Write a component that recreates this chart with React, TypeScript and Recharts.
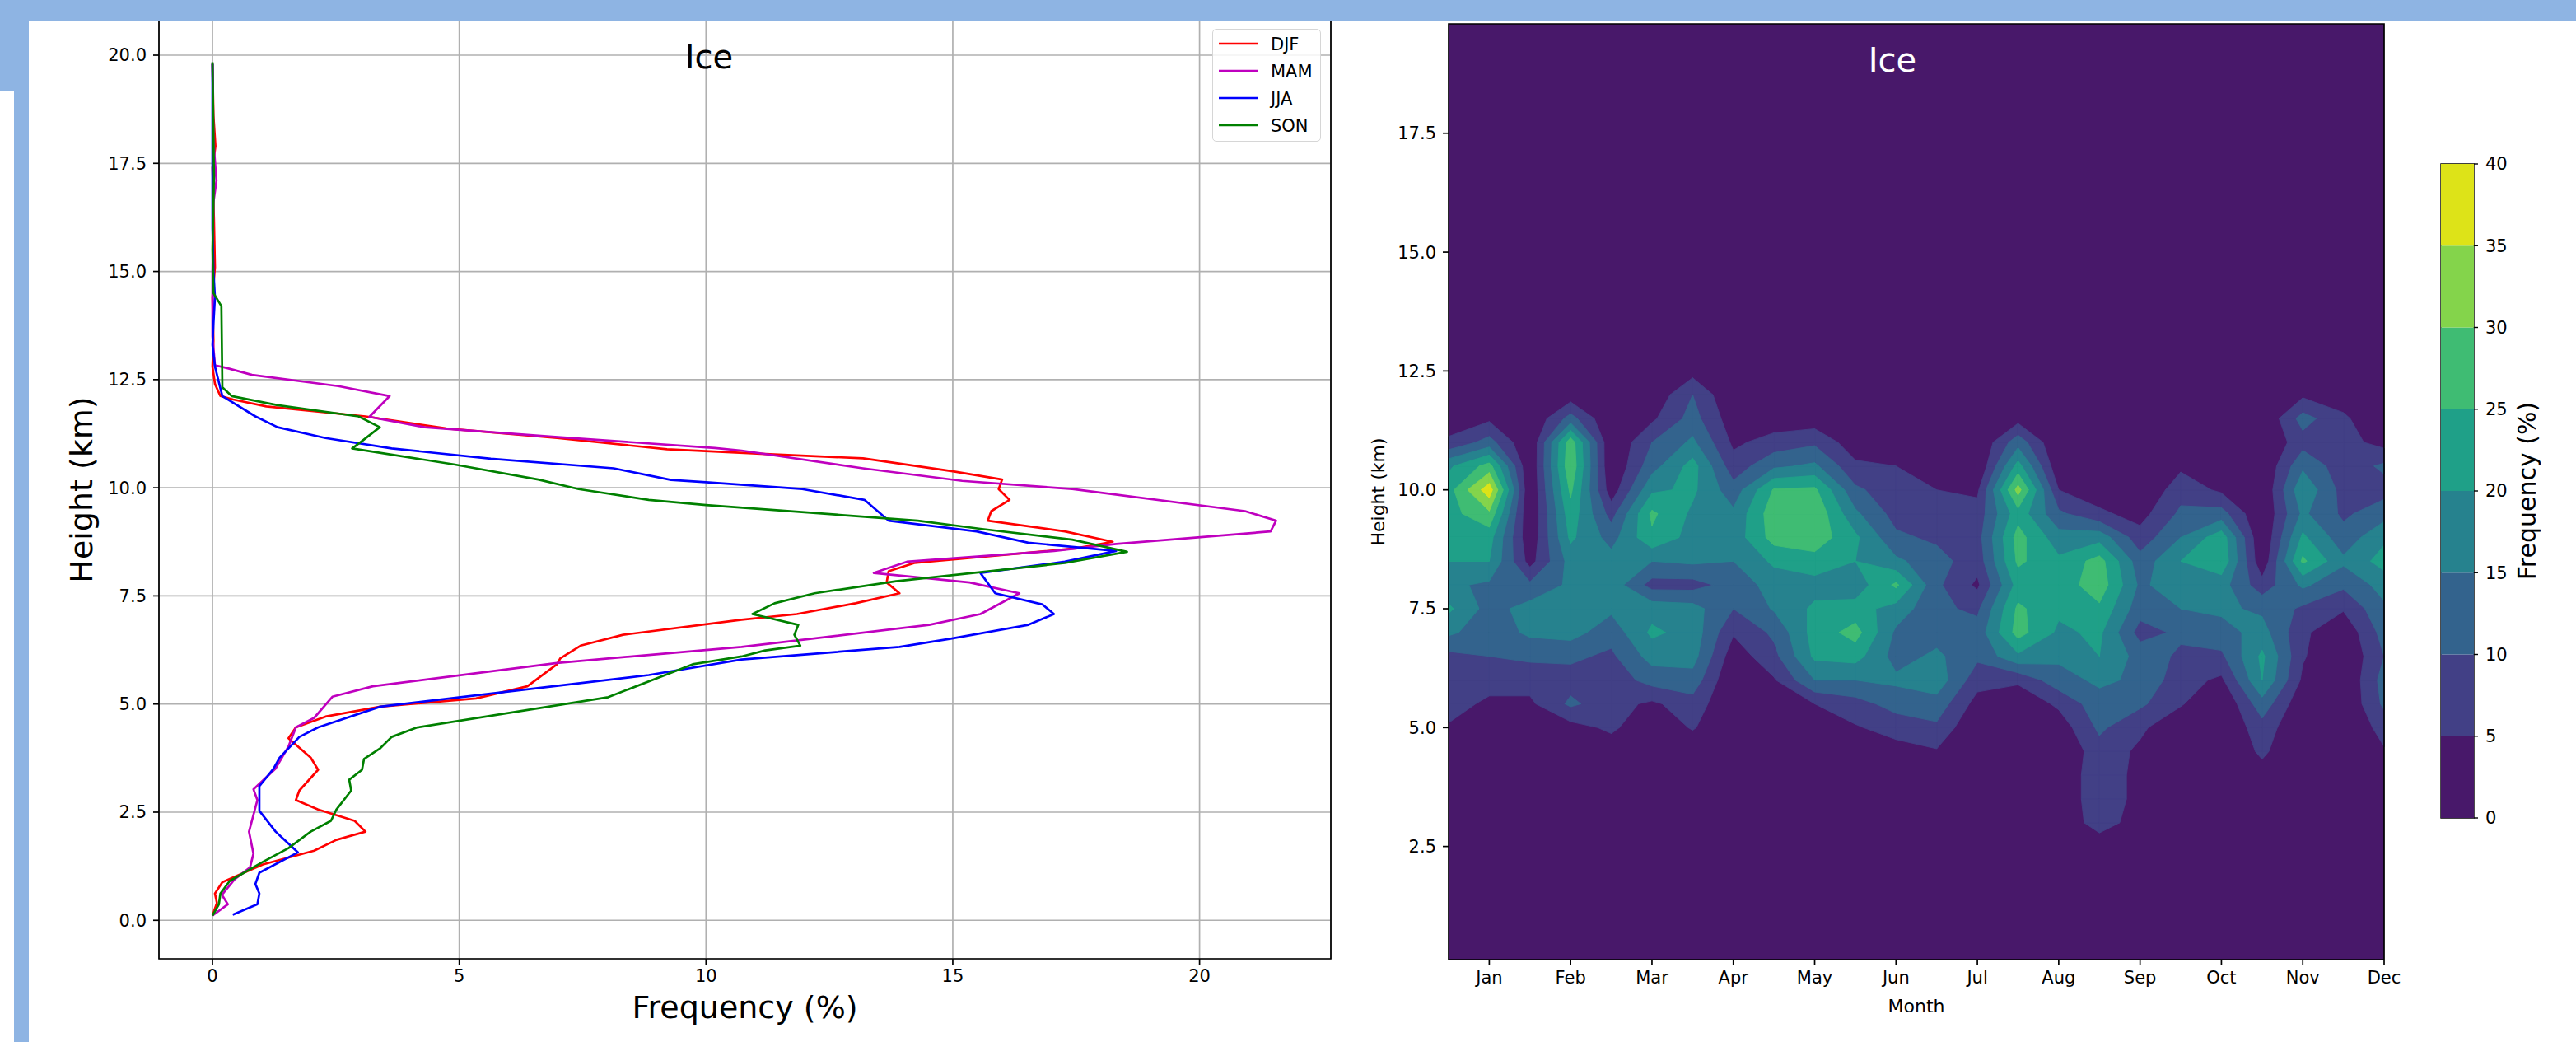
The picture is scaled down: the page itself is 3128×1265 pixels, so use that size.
import React from 'react';
import {
  ScatterChart,
  Scatter,
  XAxis,
  YAxis,
  CartesianGrid,
  ComposedChart,
  ReferenceArea,
  BarChart,
  Bar,
} from 'recharts';

const FONT = 'DejaVu Sans, Verdana, sans-serif';
const DECOR_BLUE = '#8eb4e3';

// ---------- left panel: seasonal profiles (frequency %, height km) ----------
const SEASONS = ['DJF', 'MAM', 'JJA', 'SON'];
const SEASON_COLORS = ['#ff0000', '#bf00bf', '#0000ff', '#008000'];

const DJF: [number, number][] = [
  [0, 19.8], [0.02, 18.6], [0.06, 17.9], [0, 17.4], [0.03, 16.2], [0.05, 15.1], [0, 14.4], [0.02, 13.4],
  [0, 12.8], [0.05, 12.4], [0.16, 12.12], [0.42, 12.04], [1.09, 11.88], [3.1, 11.65], [4.74, 11.37],
  [6.98, 11.15], [9.21, 10.89], [11.2, 10.78], [13.18, 10.68], [15.0, 10.38], [16.0, 10.19], [15.93, 9.97],
  [16.15, 9.72], [15.78, 9.46], [15.71, 9.24], [17.27, 8.99], [18.24, 8.75], [17.5, 8.6], [14.22, 8.26],
  [13.7, 8.07], [13.66, 7.81], [13.92, 7.56], [13.03, 7.33], [11.84, 7.08], [10.72, 6.95], [8.32, 6.6],
  [7.46, 6.35], [7.05, 6.06], [6.98, 5.92], [6.38, 5.41], [5.34, 5.13], [3.4, 4.94], [2.29, 4.71],
  [1.69, 4.46], [1.54, 4.21], [1.99, 3.76], [2.14, 3.48], [1.76, 3.0], [1.69, 2.78], [2.14, 2.56],
  [2.88, 2.3], [3.1, 2.05], [2.51, 1.86], [2.06, 1.61], [1.02, 1.29], [0.2, 0.88], [0.05, 0.62],
  [0.09, 0.4], [0, 0.11],
];
const MAM: [number, number][] = [
  [0, 19.8], [0.02, 18.0], [0.08, 17.1], [0.02, 16.6], [0, 15.0], [0, 13.5], [0.05, 12.83], [0.28, 12.77],
  [0.8, 12.61], [2.55, 12.35], [3.59, 12.12], [3.18, 11.64], [4.3, 11.4], [7.0, 11.17], [10.18, 10.92],
  [10.72, 10.86], [13.18, 10.45], [15.19, 10.16], [17.42, 9.97], [20.92, 9.46], [21.55, 9.24],
  [21.44, 8.99], [18.31, 8.7], [17.05, 8.54], [14.07, 8.29], [13.4, 8.03], [15.34, 7.81], [16.35, 7.56],
  [15.56, 7.08], [14.52, 6.83], [10.72, 6.32], [6.98, 5.95], [3.25, 5.41], [2.43, 5.17], [2.06, 4.68],
  [1.69, 4.46], [1.54, 4.02], [1.28, 3.51], [0.83, 3.03], [0.91, 2.78], [0.74, 2.05], [0.83, 1.54],
  [0.76, 1.22], [0.45, 0.95], [0.19, 0.59], [0.31, 0.37], [0, 0.11],
];
const JJA: [number, number][] = [
  [0, 19.8], [0, 16.0], [0.02, 15.0], [0.05, 14.4], [0.02, 13.8], [0, 13.3], [0.05, 12.8], [0.2, 12.12],
  [0.87, 11.65], [1.32, 11.4], [2.29, 11.15], [3.63, 10.91], [5.64, 10.67], [8.13, 10.45], [9.29, 10.18],
  [10.0, 10.13], [11.95, 9.97], [13.21, 9.72], [13.7, 9.24], [15.48, 8.99], [16.53, 8.73], [18.31, 8.54],
  [17.27, 8.29], [15.56, 8.03], [15.86, 7.56], [16.82, 7.3], [17.05, 7.08], [16.53, 6.83], [14.96, 6.51],
  [13.92, 6.32], [10.72, 6.03], [8.84, 5.67], [6.23, 5.32], [3.4, 4.94], [2.14, 4.46], [1.76, 4.24],
  [1.36, 3.76], [1.24, 3.51], [0.95, 3.1], [0.95, 2.53], [1.28, 2.05], [1.73, 1.57], [0.95, 1.1],
  [0.87, 0.84], [0.95, 0.62], [0.91, 0.37], [0.41, 0.13],
];
const SON: [number, number][] = [
  [0, 19.84], [0.03, 17.2], [0, 15.5], [0.02, 14.5], [0.18, 14.2], [0.2, 12.32], [0.39, 12.12],
  [1.32, 11.91], [2.96, 11.65], [3.39, 11.4], [3.03, 11.08], [2.83, 10.91], [4.89, 10.54], [6.6, 10.19],
  [7.42, 9.97], [8.84, 9.72], [10.0, 9.6], [11.2, 9.5], [14.29, 9.24], [15.56, 9.05], [17.42, 8.8],
  [18.53, 8.52], [17.27, 8.26], [13.85, 7.84], [12.2, 7.56], [11.39, 7.33], [10.94, 7.08], [11.87, 6.83],
  [11.79, 6.6], [11.91, 6.35], [11.2, 6.24], [10.72, 6.1], [9.73, 5.92], [8.02, 5.16], [4.15, 4.46],
  [3.63, 4.24], [3.4, 3.98], [3.07, 3.73], [3.03, 3.48], [2.77, 3.25], [2.81, 3.0], [2.51, 2.56],
  [2.4, 2.3], [1.99, 2.05], [1.54, 1.67], [1.02, 1.35], [0.35, 0.91], [0.16, 0.62], [0.13, 0.37], [0, 0.11],
];
const SEASON_DATA = [DJF, MAM, JJA, SON];

const FREQ_TICKS = [0, 5, 10, 15, 20];
const LEFT_HEIGHT_TICKS = [0, 2.5, 5, 7.5, 10, 12.5, 15, 17.5, 20];
const LEFT_X_DOMAIN: [number, number] = [-1.085, 22.66];
const LEFT_Y_DOMAIN: [number, number] = [-0.89, 20.8];

// ---------- right panel: monthly contour of ice frequency ----------
const MONTHS = ['Jan', 'Feb', 'Mar', 'Apr', 'May', 'Jun', 'Jul', 'Aug', 'Sep', 'Oct', 'Nov', 'Dec'];
const MONTH_TICKS = [1, 2, 3, 4, 5, 6, 7, 8, 9, 10, 11, 12];
const RIGHT_HEIGHT_TICKS = [2.5, 5, 7.5, 10, 12.5, 15, 17.5];
const RIGHT_X_DOMAIN: [number, number] = [0.5, 12];
const RIGHT_Y_DOMAIN: [number, number] = [0.12, 19.8];

// grid positions (month, half-month steps) and heights (km, top to bottom)
const GRID_MONTHS = [0.5, 1, 1.5, 2, 2.5, 3, 3.5, 4, 4.5, 5, 5.5, 6, 6.5, 7, 7.5, 8, 8.5, 9, 9.5, 10, 10.5, 11, 11.5, 12];
const GRID_HEIGHTS = [13, 12.5, 12, 11.5, 11, 10.5, 10, 9.5, 9, 8.5, 8, 7.5, 7, 6.5, 6, 5.5, 5, 4.5, 4, 3.5, 3, 2.5, 2];
// one frequency profile (%) per grid month, values at GRID_HEIGHTS
const ICE_PROFILES: number[][] = [
  [0, 0, 0, 2, 6, 19, 23, 23, 22, 20, 16, 21, 16, 8.5, 8, 7, 4.5, 2, 0, 0, 0, 0, 0],
  [0, 0, 1, 4, 12, 27, 38, 29, 22, 20, 14, 13, 12, 10, 7, 4, 1, 0, 0, 0, 0, 0, 0],
  [0, 0, 0, 0, 0, 0, 0, 0, 1, 3, 11, 17, 16, 11, 7, 4, 1, 0, 0, 0, 0, 0, 0],
  [0, 0, 2, 12, 28, 29, 26, 23, 21, 17, 16, 18, 17, 11, 8, 11, 3, 0, 0, 0, 0, 0, 0],
  [0, 0, 0, 0, 0, 0, 2, 8, 13, 17, 18, 16, 12, 9, 7, 7, 6, 2, 0, 0, 0, 0, 0],
  [0, 0, 1, 4, 10, 13, 19, 26, 24, 15, 8, 18, 21, 17, 12, 4, 1, 0, 0, 0, 0, 0, 0],
  [0, 3, 10, 12, 16, 22, 21, 19, 18, 16, 8, 17, 18, 17, 13, 8, 5.5, 1, 0, 0, 0, 0, 0],
  [0, 0, 0, 2, 4, 7, 12, 16, 17, 15, 12, 10, 5.5, 2, 0, 0, 0, 0, 0, 0, 0, 0, 0],
  [0, 0, 0, 2, 7, 14, 25.5, 28, 27, 21, 17, 15.5, 11, 8.5, 4.5, 0, 0, 0, 0, 0, 0, 0, 0],
  [0, 0, 0, 2, 9, 16, 26, 29, 28, 23, 18, 21, 22, 21, 15, 5, 1, 0, 0, 0, 0, 0, 0],
  [0, 0, 0, 0, 2, 6, 11, 16, 21, 20, 17, 22, 27, 22, 15, 8, 4.5, 0, 0, 0, 0, 0, 0],
  [0, 0, 0, 0, 1, 5, 7, 8, 11, 16, 26, 18, 14, 13, 16, 12, 7, 3, 0, 0, 0, 0, 0],
  [0, 0, 0, 0, 0, 1, 5, 7, 9, 12, 11, 11, 13, 16, 18, 13, 9, 4.5, 0, 0, 0, 0, 0],
  [0, 0, 0, 0, 0, 0, 4, 7, 8, 7, 4, 9, 12, 11, 7, 3, 0, 0, 0, 0, 0, 0, 0],
  [0, 0, 0, 3, 13, 22, 32, 23, 27, 26, 22, 26, 27, 19, 6, 1, 0, 0, 0, 0, 0, 0, 0],
  [0, 0, 0, 0, 0, 1, 5, 11, 17, 21, 22, 21, 19, 16, 13, 6, 2, 0, 0, 0, 0, 0, 0],
  [0, 0, 0, 0, 0, 0, 2, 6, 18, 27, 28, 24, 21, 20, 16, 13, 11, 8, 9, 9, 8, 1, 0],
  [0, 0, 0, 0, 0, 0, 0, 3, 7, 12, 14, 12, 8, 13, 14, 11, 6, 4, 3, 3, 2, 0, 0],
  [0, 0, 0, 0, 0, 4, 8, 11, 15, 20, 18, 15, 11, 9, 7, 5.5, 1, 0, 0, 0, 0, 0, 0],
  [0, 0, 0, 0, 0, 0, 4, 12, 23, 24, 17, 16, 13, 9, 4, 0, 0, 0, 0, 0, 0, 0, 0],
  [0, 0, 0, 0, 0, 0, 0, 0, 0, 1, 7, 14, 17, 21, 20, 13, 8, 6, 3, 0, 0, 0, 0],
  [0, 0, 4, 12, 8, 14, 19, 16, 21, 26, 16, 9, 6, 5.5, 4, 1, 0, 0, 0, 0, 0, 0, 0],
  [0, 0, 2, 6, 7, 7, 8, 9, 12, 16, 11, 5.5, 1, 0, 0, 0, 0, 0, 0, 0, 0, 0, 0],
  [0, 0, 0, 0, 3, 11, 8, 13, 19, 22, 17, 14, 12, 10, 12, 11, 7, 4.5, 0, 0, 0, 0, 0],
];

const LEVELS = [0, 5, 10, 15, 20, 25, 30, 35, 40];
const LEVEL_COLORS = ['#48186a', '#424086', '#33638d', '#26828e', '#1fa088', '#3fbc73', '#84d44b', '#dde318'];

type Node = { m: number; h: number; v: number };

function clipAbove(poly: Node[], level: number): Node[] {
  const out: Node[] = [];
  for (let i = 0; i < poly.length; i++) {
    const a = poly[i];
    const b = poly[(i + 1) % poly.length];
    const aIn = a.v >= level;
    const bIn = b.v >= level;
    if (aIn) out.push(a);
    if (aIn !== bIn) {
      const t = (level - a.v) / (b.v - a.v);
      out.push({ m: a.m + t * (b.m - a.m), h: a.h + t * (b.h - a.h), v: level });
    }
  }
  return out;
}

function ContourShape(props: any) {
  const { x, y, width, height } = props;
  if (![x, y, width, height].every((n) => typeof n === 'number' && isFinite(n))) return <g />;
  const [X0, X1] = RIGHT_X_DOMAIN;
  const [Y0, Y1] = RIGHT_Y_DOMAIN;
  const px = (m: number) => x + ((m - X0) / (X1 - X0)) * width;
  const py = (h: number) => y + ((Y1 - h) / (Y1 - Y0)) * height;
  const paths: React.ReactNode[] = [];
  for (let k = 1; k < LEVELS.length - 1; k++) {
    const L = LEVELS[k];
    let d = '';
    for (let i = 0; i < GRID_MONTHS.length - 1; i++) {
      for (let j = 0; j < GRID_HEIGHTS.length - 1; j++) {
        const cell: Node[] = [
          { m: GRID_MONTHS[i], h: GRID_HEIGHTS[j], v: ICE_PROFILES[i][j] },
          { m: GRID_MONTHS[i + 1], h: GRID_HEIGHTS[j], v: ICE_PROFILES[i + 1][j] },
          { m: GRID_MONTHS[i + 1], h: GRID_HEIGHTS[j + 1], v: ICE_PROFILES[i + 1][j + 1] },
          { m: GRID_MONTHS[i], h: GRID_HEIGHTS[j + 1], v: ICE_PROFILES[i][j + 1] },
        ];
        const poly = clipAbove(cell, L);
        if (poly.length >= 3) {
          d += 'M' + poly.map((p) => `${px(p.m).toFixed(2)},${py(p.h).toFixed(2)}`).join('L') + 'Z';
        }
      }
    }
    if (d) {
      paths.push(
        <path key={k} d={d} fill={LEVEL_COLORS[k]} stroke={LEVEL_COLORS[k]} strokeWidth={0.9} strokeLinejoin="round" />
      );
    }
  }
  return (
    <g>
      <rect x={x} y={y} width={width} height={height} fill={LEVEL_COLORS[0]} />
      {paths}
    </g>
  );
}

const tickStyle = { fontSize: 21, fill: '#000', fontFamily: FONT };
const tickLineStyle = { stroke: '#000', strokeWidth: 1.7 };

function LeftPanel() {
  return (
    <ScatterChart width={1650} height={1265} margin={{ top: 25, right: 34, bottom: 41, left: 113 }}>
      <CartesianGrid stroke="#b0b0b0" strokeWidth={1.7} />
      <XAxis
        type="number"
        dataKey="f"
        domain={LEFT_X_DOMAIN}
        ticks={FREQ_TICKS}
        allowDataOverflow
        interval={0}
        height={60}
        axisLine={false}
        tickSize={7}
        tickMargin={6}
        tick={tickStyle}
        tickLine={tickLineStyle}
      />
      <YAxis
        type="number"
        dataKey="h"
        domain={LEFT_Y_DOMAIN}
        ticks={LEFT_HEIGHT_TICKS}
        tickFormatter={(v: number) => v.toFixed(1)}
        allowDataOverflow
        interval={0}
        width={80}
        axisLine={false}
        tickSize={7}
        tickMargin={8}
        tick={tickStyle}
        tickLine={tickLineStyle}
      />
      {SEASONS.map((s, i) => (
        <Scatter
          key={s}
          name={s}
          data={SEASON_DATA[i].map(([f, h]) => ({ f, h }))}
          fill={SEASON_COLORS[i]}
          line={{ stroke: SEASON_COLORS[i], strokeWidth: 2.7, strokeLinejoin: 'round' }}
          lineType="joint"
          shape={() => <g />}
          isAnimationActive={false}
        />
      ))}
      <ReferenceArea
        x1={LEFT_X_DOMAIN[0]}
        x2={LEFT_X_DOMAIN[1]}
        y1={LEFT_Y_DOMAIN[0]}
        y2={LEFT_Y_DOMAIN[1]}
        fill="none"
        fillOpacity={0}
        stroke="#000"
        strokeWidth={1.7}
        ifOverflow="visible"
      />
    </ScatterChart>
  );
}

function RightPanel() {
  return (
    <ComposedChart width={1300} height={1265} margin={{ top: 29, right: 55, bottom: 40, left: 29 }}>
      <XAxis
        type="number"
        dataKey="m"
        domain={RIGHT_X_DOMAIN}
        ticks={MONTH_TICKS}
        tickFormatter={(v: number) => MONTHS[v - 1]}
        allowDataOverflow
        interval={0}
        height={60}
        axisLine={false}
        tickSize={7}
        tickMargin={7}
        tick={tickStyle}
        tickLine={tickLineStyle}
      />
      <YAxis
        type="number"
        dataKey="h"
        domain={RIGHT_Y_DOMAIN}
        ticks={RIGHT_HEIGHT_TICKS}
        tickFormatter={(v: number) => v.toFixed(1)}
        allowDataOverflow
        interval={0}
        width={80}
        axisLine={false}
        tickSize={7}
        tickMargin={8}
        tick={tickStyle}
        tickLine={tickLineStyle}
      />
      <ReferenceArea
        x1={RIGHT_X_DOMAIN[0]}
        x2={RIGHT_X_DOMAIN[1]}
        y1={RIGHT_Y_DOMAIN[0]}
        y2={RIGHT_Y_DOMAIN[1]}
        ifOverflow="visible"
        shape={(p: any) => <ContourShape {...p} />}
      />
      <ReferenceArea
        x1={RIGHT_X_DOMAIN[0]}
        x2={RIGHT_X_DOMAIN[1]}
        y1={RIGHT_Y_DOMAIN[0]}
        y2={RIGHT_Y_DOMAIN[1]}
        fill="none"
        fillOpacity={0}
        stroke="#000"
        strokeWidth={1.7}
        ifOverflow="visible"
      />
    </ComposedChart>
  );
}

const COLORBAR_ROW: Record<string, number | string> = { name: 'cb' };
LEVEL_COLORS.forEach((_, k) => {
  COLORBAR_ROW['b' + k] = LEVELS[k + 1] - LEVELS[k];
});

function ColorBar() {
  return (
    <BarChart
      width={228}
      height={1265}
      data={[COLORBAR_ROW]}
      margin={{ top: 199, right: 64, bottom: 272, left: 64 }}
      barCategoryGap={0}
      barGap={0}
    >
      <XAxis dataKey="name" type="category" hide />
      <YAxis
        orientation="right"
        type="number"
        domain={[0, 40]}
        ticks={LEVELS}
        allowDataOverflow
        interval={0}
        width={60}
        axisLine={false}
        tickSize={5}
        tickMargin={9}
        tick={tickStyle}
        tickLine={{ stroke: '#000', strokeWidth: 1.4 }}
      />
      {LEVEL_COLORS.map((c, k) => (
        <Bar key={k} dataKey={'b' + k} stackId="cb" fill={c} isAnimationActive={false} />
      ))}
      <ReferenceArea y1={0} y2={40} fill="none" fillOpacity={0} stroke="#000" strokeWidth={1.4} ifOverflow="visible" />
    </BarChart>
  );
}

function Legend() {
  return (
    <div
      style={{
        position: 'absolute',
        left: 1472,
        top: 35,
        width: 132,
        height: 137,
        border: '1.5px solid #d6d6d6',
        borderRadius: 5,
        background: 'rgba(255,255,255,0.85)',
        boxSizing: 'border-box',
      }}
    >
      <svg width={130} height={135} style={{ position: 'absolute', left: 0, top: 0 }}>
        {SEASONS.map((s, i) => (
          <g key={s}>
            <line x1={7} x2={54} y1={17 + i * 33} y2={17 + i * 33} stroke={SEASON_COLORS[i]} strokeWidth={2.7} />
            <text x={70} y={17 + i * 33 + 7.5} fontSize={21} fontFamily={FONT} fill="#000">
              {s}
            </text>
          </g>
        ))}
      </svg>
    </div>
  );
}

export default function App() {
  return (
    <div
      style={{
        position: 'absolute',
        left: 0,
        top: 0,
        width: 3128,
        height: 1265,
        background: '#ffffff',
        overflow: 'hidden',
        fontFamily: FONT,
      }}
    >
      <div style={{ position: 'absolute', left: 0, top: 0 }}>
        <LeftPanel />
      </div>
      <div style={{ position: 'absolute', left: 1650, top: 0 }}>
        <RightPanel />
      </div>
      <div style={{ position: 'absolute', left: 2900, top: 0 }}>
        <ColorBar />
      </div>
      <Legend />
      {/* page decorations */}
      <div style={{ position: 'absolute', left: 0, top: 0, width: 3128, height: 25, background: DECOR_BLUE }} />
      <div style={{ position: 'absolute', left: 0, top: 0, width: 35, height: 110, background: DECOR_BLUE }} />
      <div style={{ position: 'absolute', left: 17, top: 110, width: 18, height: 1155, background: DECOR_BLUE }} />
      {/* titles and axis labels */}
      <svg width={3128} height={1265} style={{ position: 'absolute', left: 0, top: 0, pointerEvents: 'none' }}>
        <text x={861} y={83} textAnchor="middle" fontSize={40} fontFamily={FONT} fill="#000">
          Ice
        </text>
        <text x={904.5} y={1236} textAnchor="middle" fontSize={38} fontFamily={FONT} fill="#000">
          Frequency (%)
        </text>
        <text
          x={112}
          y={594.5}
          textAnchor="middle"
          fontSize={38}
          fontFamily={FONT}
          fill="#000"
          transform="rotate(-90 112 594.5)"
        >
          Height (km)
        </text>
        <text x={2298} y={87} textAnchor="middle" fontSize={40} fontFamily={FONT} fill="#ffffff">
          Ice
        </text>
        <text x={2327} y={1229} textAnchor="middle" fontSize={22} fontFamily={FONT} fill="#000">
          Month
        </text>
        <text
          x={1681}
          y={597}
          textAnchor="middle"
          fontSize={22}
          fontFamily={FONT}
          fill="#000"
          transform="rotate(-90 1681 597)"
        >
          Height (km)
        </text>
        <text
          x={3079}
          y={596}
          textAnchor="middle"
          fontSize={30}
          fontFamily={FONT}
          fill="#000"
          transform="rotate(-90 3079 596)"
        >
          Frequency (%)
        </text>
      </svg>
    </div>
  );
}
